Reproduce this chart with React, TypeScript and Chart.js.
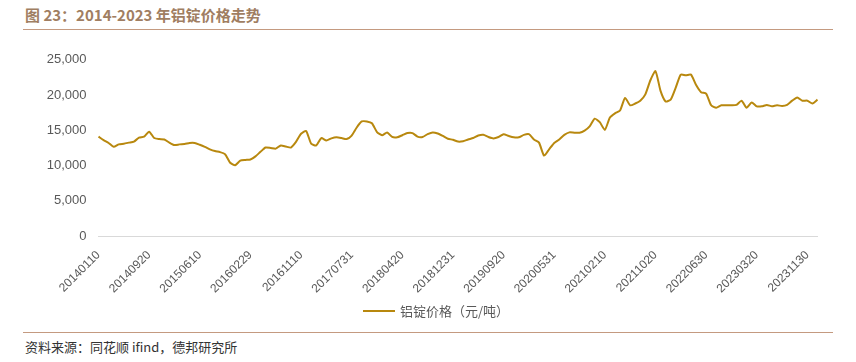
import React, { useEffect, useRef } from 'react';
import { Chart, registerables } from 'chart.js';

Chart.register(...registerables);

const TITLE = '图 23：2014-2023 年铝锭价格走势';
const SOURCE = '资料来源：同花顺 ifind，德邦研究所';
const SERIES_NAME = '铝锭价格（元/吨）';

// Tick labels shown on the x axis (one every 10 data points)
const tickLabels = [
  '20140110', '20140920', '20150610', '20160229', '20161110',
  '20170731', '20180420', '20181231', '20190920', '20200531',
  '20210210', '20211020', '20220630', '20230320', '20231130',
];
const TICK_EVERY = 10;

// Aluminium ingot price (yuan/ton)
const prices = [
  14100, 13600, 13200, 12650, 13000, 13100, 13250, 13400, 13950, 14100,
  14800, 13900, 13750, 13700, 13250, 12900, 13000, 13050, 13200, 13200,
  12950, 12650, 12300, 12050, 11900, 11600, 10400, 10050, 10700, 10800,
  10850, 11300, 11950, 12550, 12500, 12400, 12850, 12700, 12550, 13350,
  14500, 14900, 13100, 12850, 13900, 13550, 13850, 14000, 13900, 13750,
  14250, 15400, 16250, 16250, 16000, 14750, 14300, 14700, 14050, 14000,
  14300, 14600, 14600, 14100, 14050, 14450, 14700, 14550, 14200, 13800,
  13650, 13400, 13450, 13700, 13900, 14250, 14350, 14050, 13850, 14050,
  14450, 14200, 14000, 14000, 14350, 14450, 13700, 13250, 11400, 12300,
  13200, 13700, 14350, 14700, 14650, 14650, 14950, 15550, 16650, 16150,
  15050, 16800, 17400, 17800, 19600, 18550, 18800, 19200, 20100, 22100,
  23400, 20600, 19100, 19350, 21050, 22900, 22800, 22900, 21450, 20400,
  20200, 18550, 18200, 18550, 18550, 18550, 18600, 19200, 18200, 18950,
  18400, 18400, 18600, 18400, 18550, 18450, 18600, 19200, 19650, 19200,
  19200, 18800, 19350,
];

const Y_MIN = 0;
const Y_MAX = 25000;
const Y_STEP = 5000;

const LINE_COLOR = '#B8880E';
const TEXT_GRAY = '#595959';
const RULE_COLOR = '#C49A80';
const TITLE_COLOR = '#A07E62';

const categories = prices.map((_, i) =>
  i % TICK_EVERY === 0 && tickLabels[i / TICK_EVERY] ? tickLabels[i / TICK_EVERY] : ''
);

export default function App() {
  const canvasRef = useRef<HTMLCanvasElement | null>(null);

  useEffect(() => {
    const canvas = canvasRef.current;
    if (!canvas) return;
    const chart = new Chart(canvas, {
      type: 'line',
      data: {
        labels: categories,
        datasets: [
          {
            label: SERIES_NAME,
            data: prices,
            borderColor: LINE_COLOR,
            backgroundColor: LINE_COLOR,
            borderWidth: 2,
            pointRadius: 0,
            pointHoverRadius: 0,
            tension: 0.2,
            fill: false,
          },
        ],
      },
      options: {
        responsive: false,
        maintainAspectRatio: false,
        animation: false,
        devicePixelRatio: 1,
        layout: { padding: { left: 0, right: 38.5, top: 16, bottom: 0 } },
        plugins: {
          legend: { display: false },
          tooltip: { enabled: false },
        },
        scales: {
          x: {
            type: 'category',
            grid: { display: false },
            border: { display: true, color: '#D9D9D9', width: 1 },
            ticks: {
              autoSkip: false,
              minRotation: 45,
              maxRotation: 45,
              padding: 4,
              color: TEXT_GRAY,
              font: { family: '"Liberation Sans", Arial, sans-serif', size: 12 },
              callback: (_v: any, i: number) => (categories[i] ? categories[i] : null),
            },
            afterFit: (s: any) => {
              s.height = 84;
            },
          },
          y: {
            min: Y_MIN,
            max: Y_MAX,
            grid: { display: false, drawTicks: false },
            border: { display: false },
            ticks: {
              stepSize: Y_STEP,
              padding: 12,
              color: TEXT_GRAY,
              font: { family: '"Liberation Sans", Arial, sans-serif', size: 13 },
              callback: (v: any) => Number(v).toLocaleString('en-US'),
            },
            afterFit: (s: any) => {
              s.width = 98.5;
            },
          },
        },
      },
    });
    return () => chart.destroy();
  }, []);

  const cjk = '"Noto Sans CJK SC", "Noto Sans", sans-serif';

  return (
    <div
      style={{
        position: 'absolute',
        left: 0,
        top: 0,
        width: 856,
        height: 362,
        background: '#fff',
        overflow: 'hidden',
        fontFamily: cjk,
      }}
    >
      <div
        style={{
          position: 'absolute',
          left: 25,
          top: 5,
          fontSize: 15,
          lineHeight: '20px',
          fontWeight: 700,
          color: TITLE_COLOR,
          whiteSpace: 'nowrap',
        }}
      >
        {TITLE}
      </div>
      <div style={{ position: 'absolute', left: 23, top: 29, width: 810, height: 1, background: RULE_COLOR }} />
      <canvas
        ref={canvasRef}
        width={856}
        height={280}
        style={{ position: 'absolute', left: 0, top: 40, width: 856, height: 280 }}
      />
      <div style={{ position: 'absolute', left: 363, top: 310, width: 32, height: 2, background: LINE_COLOR }} />
      <div
        style={{
          position: 'absolute',
          left: 400,
          top: 302,
          fontSize: 13,
          lineHeight: '18px',
          color: TEXT_GRAY,
          whiteSpace: 'nowrap',
        }}
      >
        {SERIES_NAME}
      </div>
      <div style={{ position: 'absolute', left: 23, top: 332, width: 810, height: 1, background: RULE_COLOR }} />
      <div
        style={{
          position: 'absolute',
          left: 25,
          top: 338,
          fontSize: 13,
          lineHeight: '18px',
          color: '#333',
          whiteSpace: 'nowrap',
        }}
      >
        {SOURCE}
      </div>
    </div>
  );
}
